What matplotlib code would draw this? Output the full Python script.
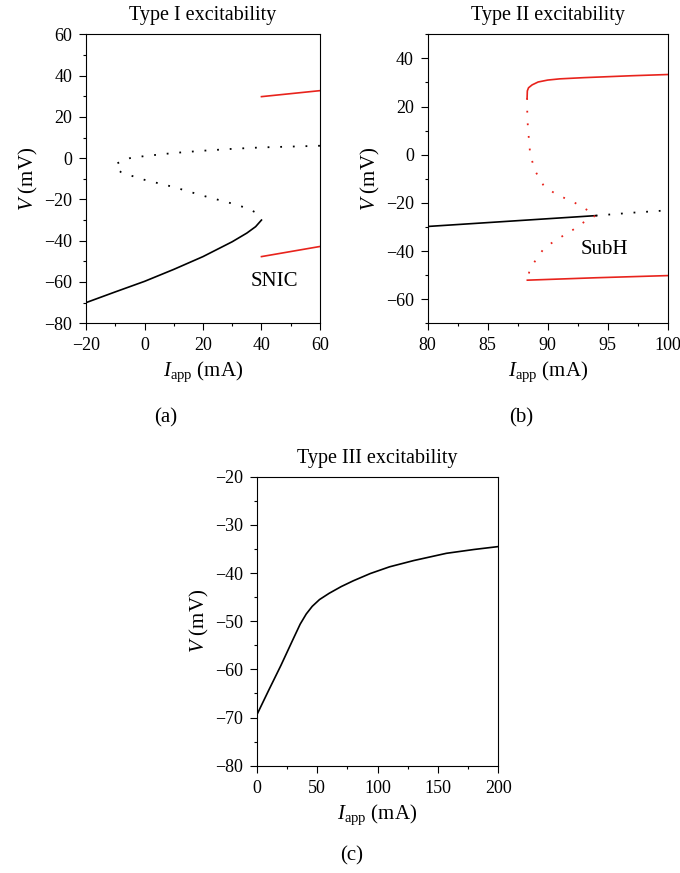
import matplotlib
matplotlib.use('Agg')
import matplotlib.pyplot as plt
from matplotlib.ticker import MultipleLocator

plt.rcParams['font.family'] = ['Liberation Serif', 'DejaVu Serif']
plt.rcParams['mathtext.fontset'] = 'custom'
plt.rcParams['mathtext.rm'] = 'Liberation Serif'
plt.rcParams['mathtext.it'] = 'Liberation Serif:italic'
plt.rcParams['font.size'] = 13

# (a) Type I
a_stable_I = [-20, -10, 0, 10, 20, 30, 35, 38, 40]
a_stable_V = [-70, -64.8, -59.7, -53.9, -47.7, -40.5, -36.3, -33.2, -30]
a_unst_I = [60, 50, 40, 30, 20, 10, 0, -5, -8, -9.5, -10, -9.5, -8, -5, 0, 10, 20, 30, 35, 38, 40]
a_unst_V = [6, 5.6, 5.2, 4.5, 3.6, 2.5, 1.0, 0, -1.5, -2.7, -4, -5.3, -6.8, -8.3, -10.5, -14, -18.2, -22, -24.2, -26.3, -30]
a_red_I = [40, 60]
a_red_up = [29.8, 32.7]
a_red_lo = [-47.7, -42.8]

# (b) Type II
b_stable_I = [80, 94]
b_stable_V = [-29.8, -25.3]
b_unst_I = [94, 97, 100]
b_unst_V = [-25.3, -24.1, -23.1]
b_up_I = [88.28, 88.3, 88.4, 88.7, 89.2, 90, 91, 93, 95, 97, 100]
b_up_V = [23.5, 26.5, 27.8, 29, 30.2, 31, 31.5, 32, 32.4, 32.8, 33.3]
b_redu_I = [88.28, 88.3, 88.39, 88.53, 88.9, 89.7, 90.8, 92.1, 93.2, 94, 93.3, 92.1, 90.7, 89.7, 89.0, 88.5, 88.3]
b_redu_V = [23.5, 15, 8.9, 0.6, -6.3, -13.2, -16.7, -19.5, -22.7, -25.3, -27, -31.2, -35.4, -38.8, -43.7, -47.8, -52]
b_lo_I = [88.3, 94, 100]
b_lo_V = [-52.1, -51.1, -50.2]

# (c) Type III
c_I = [0, 10, 20, 30, 36, 41, 46, 52, 60, 70, 80, 94, 110, 130, 157, 180, 200]
c_V = [-69.5, -64.3, -59.2, -53.8, -50.6, -48.5, -46.9, -45.5, -44.2, -42.8, -41.6, -40.1, -38.7, -37.4, -35.9, -35.1, -34.5]

red = '#e8231c'
dots = (0, (1, 6))

fig = plt.figure(figsize=(6.8, 8.73), dpi=100)
ax1 = fig.add_axes([0.1265, 0.6297, 0.344, 0.331])
ax2 = fig.add_axes([0.629, 0.6297, 0.353, 0.331])
ax3 = fig.add_axes([0.3775, 0.1229, 0.3553, 0.331])


def style(ax, xmaj, xmin, ymaj, ymin):
    ax.xaxis.set_major_locator(MultipleLocator(xmaj))
    ax.xaxis.set_minor_locator(MultipleLocator(xmin))
    ax.yaxis.set_major_locator(MultipleLocator(ymaj))
    ax.yaxis.set_minor_locator(MultipleLocator(ymin))
    ax.tick_params(which='both', direction='out', top=False, right=False, width=0.8, labelsize=13)
    ax.tick_params(which='major', length=5, pad=5)
    ax.tick_params(which='minor', length=2.5)
    for s in ax.spines.values():
        s.set_linewidth(0.8)
    ax.set_xlabel(r'$I_{\mathrm{app}}$ (mA)', fontsize=15, labelpad=4)
    ax.set_ylabel(r'$V$ (mV)', fontsize=15, labelpad=3)


ax1.plot(a_stable_I, a_stable_V, color='black', lw=1.2)
ax1.plot(a_unst_I, a_unst_V, color='black', lw=1.3, ls=dots)
ax1.plot(a_red_I, a_red_up, color=red, lw=1.2)
ax1.plot(a_red_I, a_red_lo, color=red, lw=1.2)
ax1.text(36.3, -60, 'SNIC', ha='left', va='center', fontsize=15)
ax1.set_xlim(-20, 60)
ax1.set_ylim(-80, 60)
ax1.set_title('Type I excitability', fontsize=14.5, pad=10)
style(ax1, 20, 10, 20, 10)

ax2.plot(b_stable_I, b_stable_V, color='black', lw=1.2)
ax2.plot(b_unst_I, b_unst_V, color='black', lw=1.3, ls=dots)
ax2.plot(b_redu_I, b_redu_V, color=red, lw=1.3, ls=dots)
ax2.plot(b_up_I, b_up_V, color=red, lw=1.2)
ax2.plot(b_lo_I, b_lo_V, color=red, lw=1.2)
ax2.text(92.7, -39.5, 'SubH', ha='left', va='center', fontsize=15)
ax2.set_xlim(80, 100)
ax2.set_ylim(-70, 50)
ax2.set_title('Type II excitability', fontsize=14.5, pad=10)
style(ax2, 5, 2.5, 20, 10)

ax3.plot(c_I, c_V, color='black', lw=1.2)
ax3.set_xlim(0, 200)
ax3.set_ylim(-80, -20)
ax3.set_title('Type III excitability', fontsize=14.5, pad=10)
style(ax3, 50, 25, 10, 5)

fig.text(165.8 / 680, 1 - 418 / 873, '(a)', ha='center', va='center', fontsize=15)
fig.text(520.8 / 680, 1 - 418 / 873, '(b)', ha='center', va='center', fontsize=15)
fig.text(352 / 680, 1 - 856 / 873, '(c)', ha='center', va='center', fontsize=15)

fig.savefig('out.png', dpi=100)
